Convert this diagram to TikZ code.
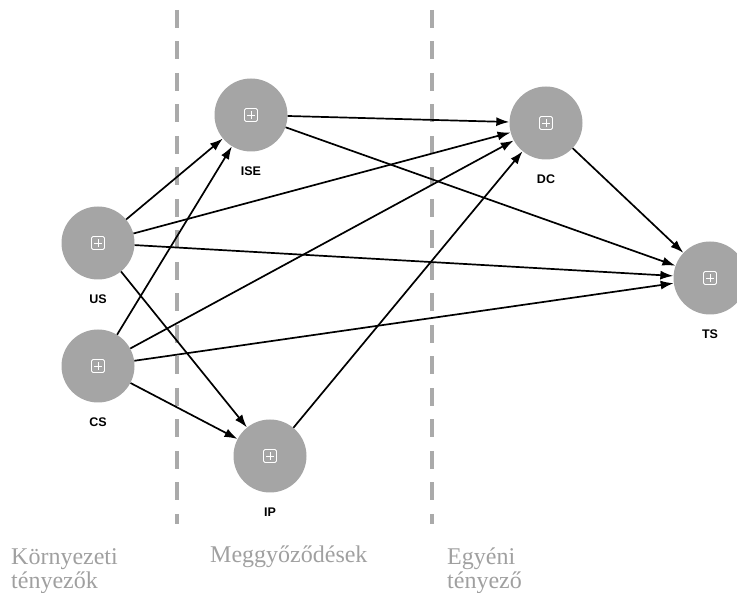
\documentclass[tikz,border=0pt]{standalone}
\usepackage{fontspec}
\setmainfont{Liberation Serif}
\setsansfont{Liberation Sans}
\usetikzlibrary{arrows.meta}
\definecolor{lvgray}{RGB}{165,165,165}
\definecolor{divgray}{RGB}{170,170,170}
\definecolor{grouptext}{RGB}{160,160,160}
\tikzset{
  lv/.style={circle, fill=lvgray, minimum size=73pt, inner sep=0pt,
    label={[lvlabel]below:#1},
    path picture={
      \draw[white, line width=0.9pt, rounded corners=1.5pt]
        ([shift={(-6.5pt,-6.5pt)}]path picture bounding box.center) rectangle
        ([shift={(6.5pt,6.5pt)}]path picture bounding box.center);
      \draw[white, line width=0.9pt]
        ([shift={(-4pt,0pt)}]path picture bounding box.center) --
        ([shift={(4pt,0pt)}]path picture bounding box.center)
        ([shift={(0pt,-4pt)}]path picture bounding box.center) --
        ([shift={(0pt,4pt)}]path picture bounding box.center);
    }},
  lvlabel/.style={font=\sffamily\bfseries\fontsize{12.5}{12.5}\selectfont,
    inner sep=0pt, label distance=15pt},
  divider/.style={draw=divgray, line width=4pt, dash pattern=on 18pt off 13.5pt},
  group/.style={text=grouptext, font=\fontsize{24}{24}\selectfont,
    align=left, inner sep=0pt, anchor=north west},
  path/.style={line width=1.7pt, -{Latex[length=13pt,width=9pt]}}
}
\begin{document}
\begin{tikzpicture}[x=1pt, y=-1pt]
      \useasboundingbox (0,0) rectangle (737,593);
      \draw[divider] (177,10) coordinate (d1top) -- (177,524) coordinate (d1bot);
      \draw[divider] (432,10) coordinate (d2top) -- (432,524) coordinate (d2bot);
      \draw
        (98,243) node[lv=US] (US){}
        (98,366) node[lv=CS] (CS){}
        (251,115) node[lv=ISE] (ISE){}
        (270,456) node[lv=IP] (IP){}
        (546,123) node[lv=DC] (DC){}
        (710,278) node[lv=TS] (TS){};
      \begin{scope}[path]
        \draw (US) to (ISE);
        \draw (US) to (DC);
        \draw (US) to (TS);
        \draw (US) to (IP);
        \draw (CS) to (ISE);
        \draw (CS) to (DC);
        \draw (CS) to (TS);
        \draw (CS) to (IP);
        \draw (ISE) to (DC);
        \draw (ISE) to (TS);
        \draw (IP) to (DC);
        \draw (DC) to (TS);
      \end{scope}
      \node[group] (env) at (11,548) {Környezeti\\tényezők};
      \node[group, anchor=base west] (bel) at (210,562) {Meggyőződések};
      \node[group] (ind) at (447,548) {Egyéni\\tényező};
    \end{tikzpicture}
\end{document}
